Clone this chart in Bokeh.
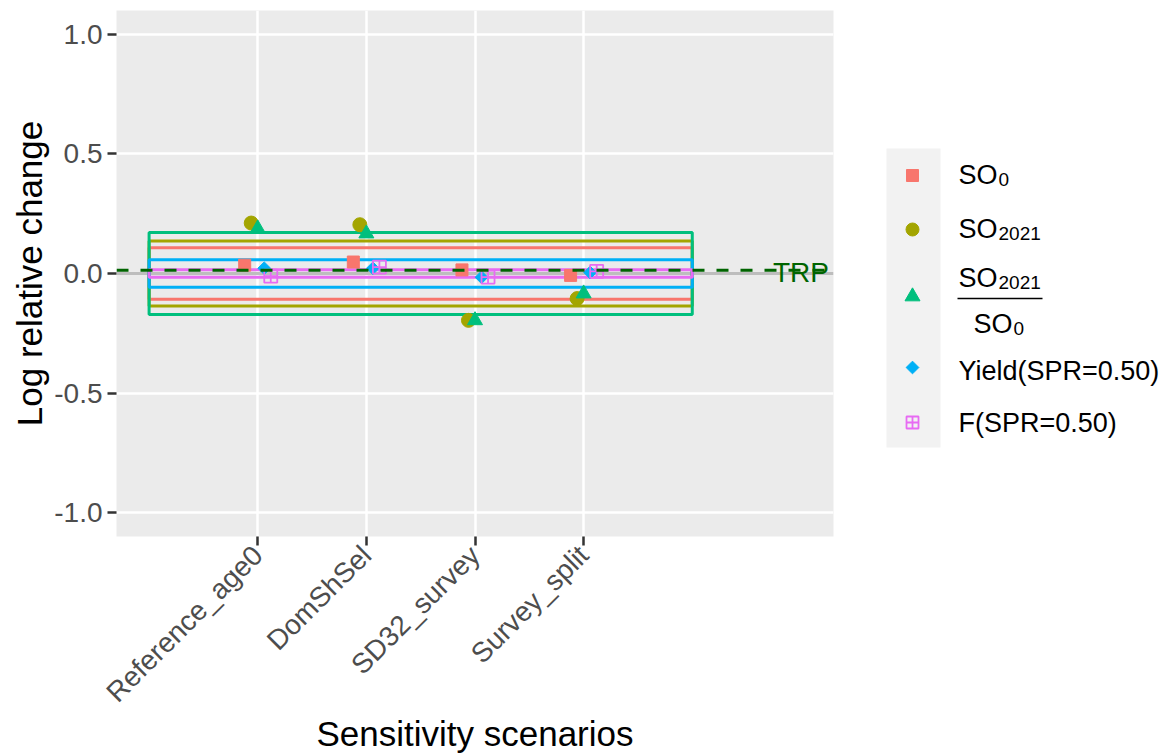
import math
from bokeh.plotting import figure
from bokeh.layouts import row
from bokeh.models import ColumnDataSource, Range1d, FixedTicker, Span, CustomJSTickFormatter
from bokeh.core.properties import value
from bokeh.embed import file_html
from bokeh.resources import INLINE

# ---------------- data ----------------
scenarios = ["Reference_age0", "DomShSel", "SD32_survey", "Survey_split"]
series_names = ["SO0", "SO2021", "SO2021/SO0", "Yield(SPR=0.50)", "F(SPR=0.50)"]
so0 = [0.035, 0.048, 0.015, -0.008]
so2021 = [0.211, 0.204, -0.196, -0.105]
ratio = [0.188, 0.167, -0.196, -0.084]
yield_spr = [0.022, 0.022, -0.016, 0.004]
f_spr = [-0.011, 0.027, -0.015, 0.009]
band_half = [0.108, 0.136, 0.172, 0.058, 0.016]   # reference bands, one per series
band_x = [0, 5]
trp_y = 0.014
trp_x = 6
y_ticks = [-1.0, -0.5, 0.0, 0.5, 1.0]

series_values = [so0, so2021, ratio, yield_spr, f_spr]
colors = ["#F8766D", "#A3A500", "#00BF7D", "#00B0F6", "#E76BF3"]
markers = ["square", "circle", "triangle", "diamond", "square_cross"]
msizes = [12, 14, 15, 9, 13]
dodge_width = 0.3

FONT = "Liberation Sans"


def add_marker(fig, xs, ys, kind, color, size):
    if kind == "square_cross":
        fig.scatter(xs, ys, marker="square_cross", size=size, fill_alpha=0,
                    line_color=color, line_width=1.8)
    elif kind == "diamond":
        fig.scatter(xs, ys, marker="square", angle=math.pi / 4, size=size,
                    fill_color=color, line_color=color, line_width=1)
    else:
        fig.scatter(xs, ys, marker=kind, size=size, fill_color=color,
                    line_color=color, line_width=1)


p = figure(width=850, height=756, x_range=Range1d(-0.3, 6.3), y_range=Range1d(-1.1, 1.1),
           output_backend="svg", toolbar_location=None,
           min_border_left=116, min_border_right=17, min_border_top=10, min_border_bottom=220)
p.background_fill_color = "#EBEBEB"
p.border_fill_color = "white"
p.outline_line_color = None

# grid
p.xgrid.ticker = FixedTicker(ticks=[1, 2, 3, 4])
p.ygrid.ticker = FixedTicker(ticks=y_ticks)
p.grid.grid_line_color = "white"
p.grid.grid_line_width = 2.5
p.grid.minor_grid_line_color = None

# zero line
p.add_layout(Span(location=0, dimension="width", line_color="#BDBDBD", line_width=3, level="underlay"))

# bands
for i in range(5):
    p.quad(left=[band_x[0]], right=[band_x[1]], bottom=[-band_half[i]], top=[band_half[i]],
           fill_alpha=0, line_color=colors[i], line_width=3)

# points
n = len(series_values)
for i, vals in enumerate(series_values):
    off = (i - (n - 1) / 2) * dodge_width / n
    xs = [k + 1 + off for k in range(len(scenarios))]
    add_marker(p, xs, vals, markers[i], colors[i], msizes[i])

# TRP line and label
p.add_layout(Span(location=trp_y, dimension="width", line_color="#006400", line_width=3,
                  line_dash="12 12"))
p.text(x=[trp_x], y=[0.005], text=["TRP"], text_font=value(FONT), text_font_size="28px",
       text_color="#006400", text_align="center", text_baseline="alphabetic")

# axes
p.xaxis.ticker = FixedTicker(ticks=[1, 2, 3, 4])
p.xaxis.formatter = CustomJSTickFormatter(args=dict(names=scenarios),
                                          code="return names[Math.round(tick) - 1] || '';")
p.xaxis.major_label_orientation = math.pi / 4
p.yaxis.ticker = FixedTicker(ticks=y_ticks)
p.yaxis.formatter = CustomJSTickFormatter(code="return tick.toFixed(1);")
for ax in (p.xaxis[0], p.yaxis[0]):
    ax.axis_line_color = None
    ax.major_tick_line_color = "#333333"
    ax.major_tick_line_width = 2.5
    ax.major_tick_out = 9
    ax.major_tick_in = 0
    ax.minor_tick_line_color = None
    ax.major_label_text_font = FONT
    ax.major_label_text_font_size = "28px"
    ax.major_label_text_color = "#4D4D4D"
    ax.major_label_standoff = 5
    ax.axis_label_text_font = FONT
    ax.axis_label_text_font_size = "35px"
    ax.axis_label_text_font_style = "normal"
    ax.axis_label_text_color = "black"
p.xaxis.axis_label = "Sensitivity scenarios"
p.yaxis.axis_label = "Log relative change"
p.xaxis.axis_label_standoff = -8
p.yaxis.axis_label_standoff = 2

# ---------------- legend (separate panel, pixel layout) ----------------
leg = figure(width=323, height=756, x_range=Range1d(850, 1173), y_range=Range1d(536, 10),
             output_backend="svg", toolbar_location=None,
             min_border_left=0, min_border_right=0, min_border_top=10, min_border_bottom=220,
             x_axis_location=None, y_axis_location=None)
leg.grid.visible = False
leg.outline_line_color = None
leg.background_fill_color = "white"
leg.border_fill_color = "white"

leg.quad(left=[886], right=[940], top=[148], bottom=[447], fill_color="#F2F2F2", line_color=None)
key_y = [175, 229, 296, 367, 422]
leg_sizes = [12, 13, 15, 9, 12]
for i in range(5):
    add_marker(leg, [912], [key_y[i]], markers[i], colors[i], leg_sizes[i])

main_txt = dict(x=[958, 958, 958, 973, 958, 958], y=[174, 228, 277, 323, 370, 422],
                text=["SO", "SO", "SO", "SO", "Yield(SPR=0.50)", "F(SPR=0.50)"])
leg.text(x="x", y="y", text="text", source=ColumnDataSource(main_txt), text_font=value(FONT),
         text_font_size="27px", text_color="black", text_align="left", text_baseline="alphabetic")
sub_txt = dict(x=[998, 998, 998, 1013], y=[179, 233, 282, 328], text=["0", "2021", "2021", "0"])
leg.text(x="x", y="y", text="text", source=ColumnDataSource(sub_txt), text_font=value(FONT),
         text_font_size="19px", text_color="black", text_align="left", text_baseline="alphabetic")
leg.segment(x0=[957], y0=[298], x1=[1042], y1=[298], line_color="black", line_width=1.5)

layout = row(p, leg)
open("out.html", "w").write(file_html(layout, INLINE))
